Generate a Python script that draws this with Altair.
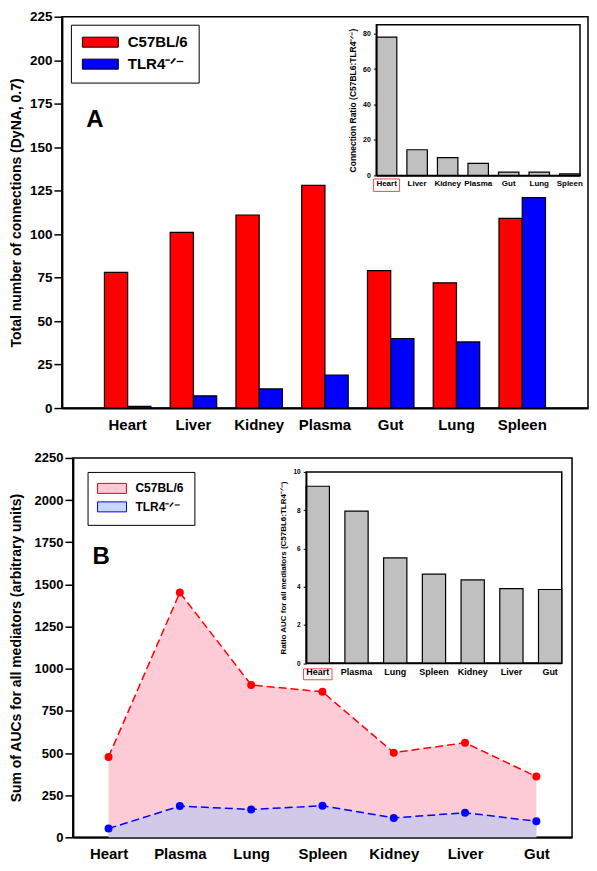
import altair as alt
import pandas as pd

FONT = "Liberation Sans"

# ---------------- data ----------------
organs_a = ["Heart", "Liver", "Kidney", "Plasma", "Gut", "Lung", "Spleen"]
conn_c57 = [78, 101, 111, 128, 79, 72, 109]
conn_tlr4 = [1, 7, 11, 19, 40, 38, 121]
ratio_a = [78, 14.5, 10, 6.8, 1.9, 1.9, 0.9]

organs_b = ["Heart", "Plasma", "Lung", "Spleen", "Kidney", "Liver", "Gut"]
auc_c57 = [477, 1452, 904, 863, 502, 561, 360]
auc_tlr4 = [52, 185, 165, 187, 115, 146, 95]
ratio_b = [9.25, 7.95, 5.5, 4.65, 4.35, 3.9, 3.85]

strains = ["C57BL/6", "TLR4\u207b\u141f\u207b"]
bar_colors = ["#ff0000", "#0000ff"]
line_colors = ["#ff0000", "#0000ff"]
legend_fills = ["#ffc9d3", "#c9d7f5"]

df_a = pd.DataFrame({
    "organ": organs_a * 2,
    "strain": [strains[0]] * len(organs_a) + [strains[1]] * len(organs_a),
    "connections": conn_c57 + conn_tlr4,
})
df_ra = pd.DataFrame({"organ": organs_a, "ratio": ratio_a})
df_b = pd.DataFrame({
    "organ": organs_b * 2,
    "strain": [strains[0]] * len(organs_b) + [strains[1]] * len(organs_b),
    "auc": auc_c57 + auc_tlr4,
})
df_rb = pd.DataFrame({"organ": organs_b, "ratio": ratio_b})
df_strains = pd.DataFrame({"strain": strains})
dummy = pd.DataFrame({"k": [0]})

# ---------------- panel A ----------------
W_A, H_A = 527, 392
IA_L, IA_R, IA_T, IA_B = 315, 519, 8, 159

legend_a = alt.Legend(
    title=None, orient="none", legendX=9, legendY=8, direction="vertical",
    strokeColor="black", fillColor="white", padding=10, rowPadding=6,
    symbolType="M-1.2,-1H6V1H-1.2Z", symbolSize=100,
    symbolStrokeColor="black", symbolStrokeWidth=1,
    labelFontSize=15, labelFontWeight="bold", labelFont=FONT, labelOffset=32,
    labelColor="black",
)

bars_a = alt.Chart(df_a).mark_bar(stroke="black", strokeWidth=1.2).encode(
    x=alt.X("organ:N", sort=organs_a,
            scale=alt.Scale(domain=organs_a, paddingInner=0.293, paddingOuter=0.6465),
            axis=alt.Axis(title=None, labelAngle=0, ticks=False, labelPadding=9,
                          labelFontSize=15, labelFontWeight="bold", domainWidth=2)),
    xOffset=alt.XOffset("strain:N", sort=strains, scale=alt.Scale(domain=strains)),
    y=alt.Y("connections:Q", scale=alt.Scale(domain=[0, 225], nice=False),
            axis=alt.Axis(title="Total number of connections (DyNA, 0.7)",
                          values=list(range(0, 226, 25)), tickSize=8, tickWidth=1.5,
                          labelPadding=2, labelFontSize=13.5, labelFontWeight="bold",
                          domainWidth=2, titleFontSize=14, titleFontWeight="bold",
                          titleX=-38, format="d")),
    fill=alt.Fill("strain:N", scale=alt.Scale(domain=strains, range=bar_colors),
                  legend=legend_a),
)

xa_in_scale = alt.Scale(domain=organs_a, range=[IA_L, IA_R], paddingInner=0.33, paddingOuter=0)
xa_in_axis = alt.Axis(orient="bottom", offset=-(H_A - IA_B), title=None, labelAngle=0,
                      ticks=False, labelPadding=4, labelFontSize=8, labelFontWeight="bold",
                      domainWidth=1.5, zindex=1)

frame_a = alt.Chart(dummy).mark_rect(fill="white", stroke="black", strokeWidth=1.5).encode(
    x=alt.value(IA_L), x2=alt.value(IA_R), y=alt.value(IA_T), y2=alt.value(IA_B))

inset_bars_a = alt.Chart(df_ra).mark_bar(fill="#c0c0c0", stroke="black", strokeWidth=1.2).encode(
    x=alt.X("organ:N", sort=organs_a, scale=xa_in_scale, axis=xa_in_axis),
    y=alt.Y("ratio:Q", scale=alt.Scale(domain=[0, 85], range=[IA_B, IA_T], nice=False),
            axis=alt.Axis(orient="left", offset=-IA_L,
                          title="Connection Ratio (C57BL6:TLR4\u207b\u141f\u207b)",
                          values=[0, 20, 40, 60, 80], tickSize=3, labelPadding=3,
                          labelFontSize=7, labelFontWeight="bold", domainWidth=1.5,
                          titleFontSize=8.5, titleFontWeight="bold", titlePadding=5,
                          zindex=1)),
)

box_a = alt.Chart(pd.DataFrame({"organ": [organs_a[0]]})).mark_bar(
    width=26, fillOpacity=0, stroke="#f04848", strokeWidth=1).encode(
    x=alt.X("organ:N", sort=organs_a, scale=xa_in_scale, axis=xa_in_axis),
    y=alt.value(IA_B + 3.5), y2=alt.value(IA_B + 16))

inset_a = alt.layer(frame_a, inset_bars_a, box_a)

label_a = alt.Chart(dummy).mark_text(text="A", fontSize=24, fontWeight="bold", font=FONT,
                                     align="center", baseline="middle").encode(
    x=alt.value(33), y=alt.value(103))

panel_a = alt.layer(bars_a, inset_a, label_a).resolve_scale(
    x="independent", y="independent").properties(width=W_A, height=H_A)

# ---------------- panel B ----------------
W_B, H_B = 500, 380
IB_L, IB_R, IB_T, IB_B = 233.7, 489.7, 14, 205.5

xb_scale = alt.Scale(type="point", domain=organs_b, padding=0.5)
xb_axis = alt.Axis(title=None, labelAngle=0, ticks=False, labelPadding=9, labelFontSize=15,
                   labelFontWeight="bold", domainWidth=2)
yb_scale = alt.Scale(domain=[0, 2250], nice=False)
yb_axis = alt.Axis(title="Sum of AUCs for all mediators (arbitrary units)",
                   values=list(range(0, 2251, 250)), tickSize=8, tickWidth=1.5, labelPadding=2,
                   labelFontSize=13, labelFontWeight="bold", domainWidth=2, format="d",
                   titleFontSize=14, titleFontWeight="bold", titleX=-49)

base_b = alt.Chart(df_b).encode(
    x=alt.X("organ:N", sort=organs_b, scale=xb_scale, axis=xb_axis),
    y=alt.Y("auc:Q", scale=yb_scale, axis=yb_axis),
)
red_sel = alt.datum.strain == strains[0]
blue_sel = alt.datum.strain == strains[1]

area_red = base_b.transform_filter(red_sel).mark_area(color="#fdcbd6", opacity=1)
area_blue = base_b.transform_filter(blue_sel).mark_area(color="#b4c8f2", opacity=0.6)
line_red = base_b.transform_filter(red_sel).mark_line(color=line_colors[0], strokeDash=[8, 4], strokeWidth=1.5)
line_blue = base_b.transform_filter(blue_sel).mark_line(color=line_colors[1], strokeDash=[8, 4], strokeWidth=1.5)
pts_red = base_b.transform_filter(red_sel).mark_circle(color=line_colors[0], size=64, opacity=1)
pts_blue = base_b.transform_filter(blue_sel).mark_circle(color=line_colors[1], size=64, opacity=1)

main_b = alt.layer(area_red, area_blue, line_red, line_blue, pts_red, pts_blue)

legend_b = alt.Legend(
    title=None, orient="none", legendX=14.7, legendY=14, direction="vertical",
    strokeColor="black", fillColor="white", padding=10.5, rowPadding=4.5,
    symbolType="M-1.3,-1H4.5V1H-1.3Z", symbolSize=100, symbolStrokeWidth=1,
    labelFontSize=12, labelFontWeight="bold", labelFont=FONT, labelOffset=25.5,
    labelColor="black",
)
legend_layer_b = alt.Chart(df_strains).mark_point(filled=True, opacity=1).encode(
    fill=alt.Fill("strain:N", scale=alt.Scale(domain=strains, range=legend_fills), legend=legend_b),
    stroke=alt.Stroke("strain:N", scale=alt.Scale(domain=strains, range=line_colors), legend=legend_b),
    size=alt.value(0),
)

xb_in_scale = alt.Scale(domain=organs_b, range=[IB_L, IB_R], paddingInner=0.4, paddingOuter=0)
xb_in_axis = alt.Axis(orient="bottom", offset=-(H_B - IB_B), title=None, labelAngle=0,
                      ticks=False, labelPadding=4, labelFontSize=9, labelFontWeight="bold",
                      domainWidth=1.5, zindex=1)

frame_b = alt.Chart(dummy).mark_rect(fill="white", stroke="black", strokeWidth=1.5).encode(
    x=alt.value(IB_L), x2=alt.value(IB_R), y=alt.value(IB_T), y2=alt.value(IB_B))

inset_bars_b = alt.Chart(df_rb).mark_bar(fill="#c0c0c0", stroke="black", strokeWidth=1.2).encode(
    x=alt.X("organ:N", sort=organs_b, scale=xb_in_scale, axis=xb_in_axis),
    y=alt.Y("ratio:Q", scale=alt.Scale(domain=[0, 10], range=[IB_B, IB_T], nice=False),
            axis=alt.Axis(orient="left", offset=-IB_L,
                          title="Ratio AUC for all mediators (C57BL6:TLR4\u207b\u141f\u207b)",
                          values=[0, 2, 4, 6, 8, 10], tickSize=3, labelPadding=3,
                          labelFontSize=6.5, labelFontWeight="bold", domainWidth=1.5,
                          titleFontSize=8, titleFontWeight="bold", titlePadding=5,
                          zindex=1)),
)

box_b = alt.Chart(pd.DataFrame({"organ": [organs_b[0]]})).mark_bar(
    width=28.5, fillOpacity=0, stroke="#f04848", strokeWidth=1).encode(
    x=alt.X("organ:N", sort=organs_b, scale=xb_in_scale, axis=xb_in_axis),
    y=alt.value(IB_B + 5.7), y2=alt.value(IB_B + 16.7))

inset_b = alt.layer(frame_b, inset_bars_b, box_b)

label_b = alt.Chart(dummy).mark_text(text="B", fontSize=24, fontWeight="bold", font=FONT,
                                     align="center", baseline="middle").encode(
    x=alt.value(28.2), y=alt.value(99.5))

panel_b = alt.layer(main_b, inset_b, legend_layer_b, label_b).resolve_scale(
    x="independent", y="independent").properties(width=W_B, height=H_B)

# invisible 1px spacers so each panel keeps its own left edge
def spacer():
    return alt.Chart(dummy).mark_rect(opacity=0).encode(
        x=alt.value(0), x2=alt.value(1), y=alt.value(0), y2=alt.value(1)
    ).properties(width=1, height=1, view=alt.ViewBackground(strokeOpacity=0))

row_a = alt.hconcat(spacer(), panel_a, spacing=0).resolve_scale(fill="independent", stroke="independent")
row_b = alt.hconcat(spacer(), panel_b, spacing=0).resolve_scale(fill="independent", stroke="independent")

chart = alt.vconcat(row_a, row_b, spacing=18).resolve_scale(
    fill="independent", stroke="independent"
).properties(
    padding={"left": 0, "right": 0, "top": 0, "bottom": 0}
).configure_view(stroke="black", strokeWidth=1.5).configure_axis(
    labelFont=FONT, titleFont=FONT, labelColor="black", titleColor="black",
    domainColor="black", tickColor="black", grid=False
).configure_legend(labelFont=FONT)

chart.save("out.html", embed_options={"renderer": "svg", "actions": False})
